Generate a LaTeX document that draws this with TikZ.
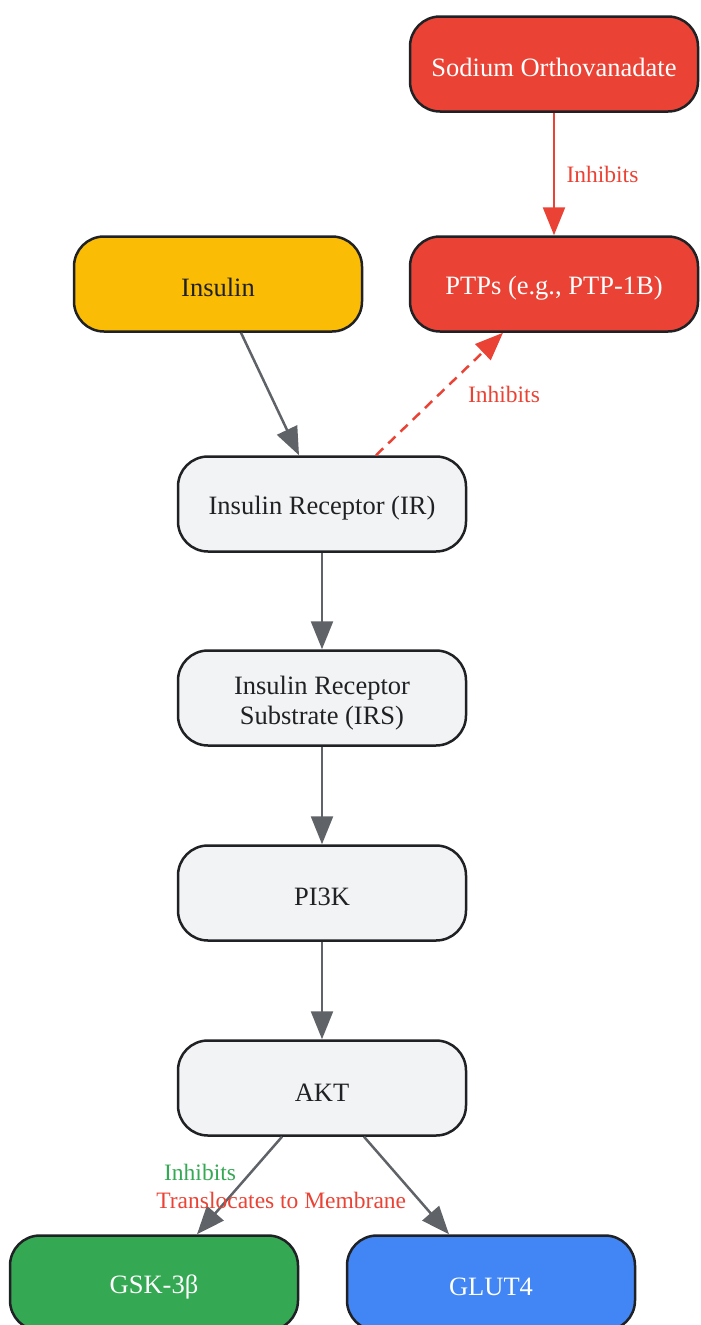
\documentclass[tikz,border=0pt]{standalone}
\usepackage{fontspec}
\setmainfont{Liberation Serif}
\usetikzlibrary{arrows.meta}
\definecolor{gred}{HTML}{EA4335}
\definecolor{gyellow}{HTML}{FBBC05}
\definecolor{ggreen}{HTML}{34A853}
\definecolor{gblue}{HTML}{4285F4}
\definecolor{ggrey}{HTML}{F1F3F4}
\definecolor{gborder}{HTML}{202124}
\definecolor{garrow}{HTML}{5F6368}
\begin{document}
\begin{tikzpicture}
		[x=1pt,y=-1pt,
		 box/.style={draw=gborder,line width=2.5pt,rounded corners=30pt,minimum width=288pt,minimum height=95pt,align=center,text height=26pt,font=\fontsize{26.5}{30}\selectfont},
		 pathway/.style={box,fill=ggrey,text=gborder},
		 drug/.style={box,fill=gred,text=white},
		 link/.style={line width=2.5pt,draw=garrow,-{Triangle[length=28pt,width=22pt]}},
		 block/.style={line width=2.5pt,draw=gred,-{Triangle[length=28pt,width=22pt]}},
		 tag/.style={font=\fontsize{23.5}{26}\selectfont}]
		\useasboundingbox (0,0) rectangle (701,1325);

		% draw the inhibitor and its target
		\node[drug] (vanadate) at (554,64) {Sodium Orthovanadate};
		\node[drug] (ptp) at (554,284) {PTPs (e.g., PTP-1B)};
		\node[box,fill=gyellow,text=gborder] (insulin) at (218,284) {Insulin};

		% draw the signalling cascade
		\node[pathway] (ir) at (322,504) {Insulin Receptor (IR)};
		\node[pathway,text height=58pt] (irs) at (322,698) {Insulin Receptor\\Substrate (IRS)};
		\node[pathway] (pik) at (322,893) {PI3K};
		\node[pathway] (akt) at (322,1088) {AKT};
		\node[box,fill=ggreen,text=white] (gsk) at (154,1283) {GSK-3β};
		\node[box,fill=gblue,text=white] (glut) at (491,1283) {GLUT4};

		%draw the arrows
		\draw [block] (vanadate) -- node[tag,text=gred,midway,right=8pt]{Inhibits} (ptp);
		\draw [block,dashed,dash pattern=on 10pt off 7pt] ([xshift=54pt]ir.north) -- node[tag,text=gred,midway,right=24pt]{Inhibits} ([xshift=-51pt]ptp.south);
		\draw [link] ([xshift=23pt]insulin.south) -- ([xshift=-23pt]ir.north);
		\draw [link] (ir) -- (irs);
		\draw [link] (irs) -- (pik);
		\draw [link] (pik) -- (akt);
		\draw [link] ([xshift=-40pt]akt.south) -- node[tag,text=ggreen,pos=0.37,left=10pt]{Inhibits} ([xshift=43pt]gsk.north);
		\draw [link] ([xshift=42pt]akt.south) -- node[tag,text=gred,pos=0.65,xshift=-138pt]{Translocates to Membrane} ([xshift=-42pt]glut.north);
	\end{tikzpicture}
\end{document}
